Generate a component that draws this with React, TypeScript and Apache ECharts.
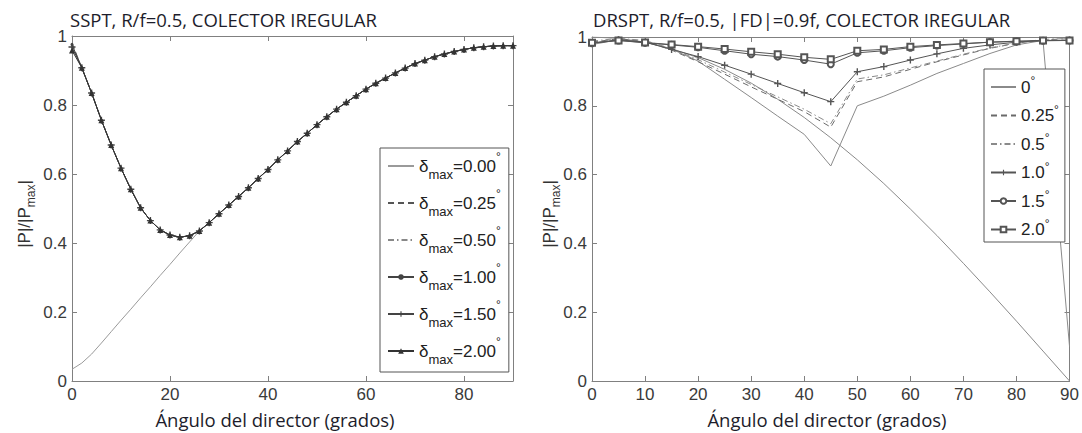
import React, { useEffect, useRef } from "react";
import * as echarts from "echarts";

// ---------- Left panel (SSPT) ----------
const leftAngles = [0, 2, 4, 6, 8, 10, 12, 14, 16, 18, 20, 22, 24, 26, 28, 30, 32, 34, 36, 38, 40, 42, 44, 46, 48, 50, 52, 54, 56, 58, 60, 62, 64, 66, 68, 70, 72, 74, 76, 78, 80, 82, 84, 86, 88, 90];
const leftDelta000 = [0.034, 0.052, 0.078, 0.110, 0.143, 0.176, 0.208, 0.241, 0.273, 0.306, 0.338, 0.371, 0.403, 0.435, 0.459, 0.485, 0.510, 0.535, 0.560, 0.587, 0.613, 0.641, 0.667, 0.694, 0.718, 0.743, 0.766, 0.788, 0.808, 0.827, 0.846, 0.863, 0.878, 0.893, 0.907, 0.920, 0.930, 0.940, 0.948, 0.955, 0.961, 0.966, 0.969, 0.971, 0.972, 0.972];
// shared curve of the delta>0 series for angles 2..90
const leftCurveFromTwo = [0.908, 0.835, 0.756, 0.684, 0.617, 0.556, 0.502, 0.465, 0.438, 0.423, 0.417, 0.421, 0.435, 0.459, 0.485, 0.510, 0.535, 0.560, 0.587, 0.613, 0.641, 0.667, 0.694, 0.718, 0.743, 0.766, 0.788, 0.808, 0.827, 0.846, 0.863, 0.878, 0.893, 0.907, 0.920, 0.930, 0.940, 0.948, 0.955, 0.961, 0.966, 0.969, 0.971, 0.972, 0.972];
// values at angle 0 for delta = 0.25, 0.50, 1.00, 1.50, 2.00
const leftStartValues = [0.98, 0.978, 0.975, 0.968, 0.958];
const leftLegendLabels = ["0.00", "0.25", "0.50", "1.00", "1.50", "2.00"];
const leftXTicks = [0, 20, 40, 60, 80];

// ---------- Right panel (DRSPT) ----------
const rightAngles = [0, 5, 10, 15, 20, 25, 30, 35, 40, 45, 50, 55, 60, 65, 70, 75, 80, 85, 90];
const rightReference = [1.0, 0.996, 0.985, 0.966, 0.94, 0.906, 0.866, 0.819, 0.766, 0.707, 0.643, 0.574, 0.5, 0.423, 0.342, 0.259, 0.174, 0.087, 0.0];
const right0 = [0.978, 0.992, 0.985, 0.965, 0.93, 0.877, 0.824, 0.77, 0.717, 0.625, 0.80, 0.828, 0.86, 0.894, 0.923, 0.952, 0.977, 0.99, 0.10];
const right025 = [0.985, 0.995, 0.988, 0.962, 0.928, 0.892, 0.855, 0.819, 0.783, 0.738, 0.870, 0.884, 0.906, 0.928, 0.948, 0.967, 0.982, 0.992, 0.995];
const right05 = [0.988, 0.996, 0.99, 0.966, 0.934, 0.898, 0.862, 0.826, 0.79, 0.748, 0.878, 0.89, 0.91, 0.93, 0.95, 0.968, 0.983, 0.993, 0.996];
const right10 = [0.982, 0.992, 0.985, 0.964, 0.943, 0.918, 0.892, 0.865, 0.838, 0.812, 0.899, 0.914, 0.933, 0.951, 0.967, 0.977, 0.985, 0.99, 0.99];
const right15 = [0.982, 0.99, 0.983, 0.977, 0.97, 0.96, 0.95, 0.943, 0.933, 0.921, 0.954, 0.96, 0.969, 0.975, 0.98, 0.985, 0.987, 0.989, 0.99];
const right20 = [0.983, 0.99, 0.984, 0.978, 0.972, 0.965, 0.957, 0.95, 0.941, 0.935, 0.96, 0.964, 0.972, 0.977, 0.981, 0.985, 0.988, 0.99, 0.99];
const rightLegendLabels = ["0", "0.25", "0.5", "1.0", "1.5", "2.0"];
const rightXTicks = [0, 10, 20, 30, 40, 50, 60, 70, 80, 90];

const yTicks = [0, 0.2, 0.4, 0.6, 0.8, 1];

const leftTitle = "SSPT, R/f=0.5, COLECTOR IREGULAR";
const rightTitle = "DRSPT, R/f=0.5, |FD|=0.9f, COLECTOR IREGULAR";
const xName = "Ángulo del director (grados)";

const SANS = "'Liberation Sans', Arial, sans-serif";
const TITLE_FONT = "'Open Sans', 'Noto Sans', sans-serif";
const AXIS_GRAY = "#808080";
const PLUS = "path://M4,0H6V4H10V6H6V10H4V6H0V4H4Z";

const pair = (xs: number[], ys: number[]) => xs.map((x, i) => [x, ys[i]]);

function buildOption() {
  const leftNames = leftLegendLabels.map((l) => `δmax=${l}°`);
  const rightNames = rightLegendLabels.map((l) => `${l}°`);

  const yLabelFmt = (v: number) => (yTicks.includes(Number(v.toFixed(1))) ? (v === 0 ? "0" : v === 1 ? "1" : v.toFixed(1)) : "");

  const mkX = (grid: number, ticks: number[], interval: number, top: boolean) => ({
    type: "value",
    gridIndex: grid,
    position: top ? "top" : "bottom",
    min: 0,
    max: 90,
    interval,
    axisLine: { show: true, onZero: false, lineStyle: { color: AXIS_GRAY, width: 1 } },
    axisTick: { show: true, inside: true, length: 5, lineStyle: { color: AXIS_GRAY } },
    axisLabel: {
      show: !top,
      color: "#3a3a3a",
      fontFamily: SANS,
      fontSize: 17,
      margin: 5,
      showMaxLabel: true,
      formatter: (v: number) => (ticks.includes(v) ? String(v) : ""),
    },
    splitLine: { show: false },
  });
  const mkY = (grid: number, right: boolean) => ({
    type: "value",
    gridIndex: grid,
    position: right ? "right" : "left",
    min: 0,
    max: 1,
    interval: 0.2,
    axisLine: { show: true, onZero: false, lineStyle: { color: AXIS_GRAY, width: 1 } },
    axisTick: { show: true, inside: true, length: 5, lineStyle: { color: AXIS_GRAY } },
    axisLabel: { show: !right, color: "#3a3a3a", fontFamily: SANS, fontSize: 17, margin: 5, formatter: yLabelFmt },
    splitLine: { show: false },
  });

  const leftStyles = [
    { color: "#9a9a9a", type: "solid", symbol: "none", size: 0 },
    { color: "#555", type: [6, 4], symbol: "none", size: 0 },
    { color: "#888", type: [6, 3, 1.5, 3], symbol: "none", size: 0 },
    { color: "#444", type: "solid", symbol: "circle", size: 3 },
    { color: "#444", type: "solid", symbol: PLUS, size: 7 },
    { color: "#333", type: "solid", symbol: "triangle", size: 6 },
  ];
  const leftData = [leftDelta000, ...leftStartValues.map((s) => [s, ...leftCurveFromTwo])];

  const leftSeries = leftNames.map((name, i) => ({
    name,
    type: "line",
    xAxisIndex: 0,
    yAxisIndex: 0,
    data: pair(leftAngles, leftData[i]),
    showSymbol: leftStyles[i].symbol !== "none",
    symbol: leftStyles[i].symbol,
    symbolSize: leftStyles[i].size,
    lineStyle: { color: leftStyles[i].color, width: 1, type: leftStyles[i].type },
    itemStyle: { color: leftStyles[i].color },
    z: 2 + i,
  }));

  const rightStyles = [
    { color: "#8a8a8a", type: "solid", symbol: "none", size: 0 },
    { color: "#6a6a6a", type: [6, 4], symbol: "none", size: 0 },
    { color: "#8a8a8a", type: [6, 3, 1.5, 3], symbol: "none", size: 0 },
    { color: "#555", type: "solid", symbol: PLUS, size: 7 },
    { color: "#555", type: "solid", symbol: "emptyCircle", size: 6 },
    { color: "#555", type: "solid", symbol: "emptyRect", size: 6 },
  ];
  const rightData = [right0, right025, right05, right10, right15, right20];
  const rightSeries = rightNames.map((name, i) => ({
    name,
    type: "line",
    xAxisIndex: 2,
    yAxisIndex: 2,
    data: pair(rightAngles, rightData[i]),
    showSymbol: rightStyles[i].symbol !== "none",
    symbol: rightStyles[i].symbol,
    symbolSize: rightStyles[i].size,
    lineStyle: { color: rightStyles[i].color, width: 1, type: rightStyles[i].type },
    itemStyle: { color: rightStyles[i].color, borderWidth: 1 },
    z: 3 + i,
  }));
  const refSeries = {
    name: "referencia",
    type: "line",
    xAxisIndex: 2,
    yAxisIndex: 2,
    data: pair(rightAngles, rightReference),
    showSymbol: false,
    symbol: "none",
    lineStyle: { color: "#8a8a8a", width: 1 },
    z: 2,
  };

  const base = { fontFamily: SANS, color: "#222" };
  const legendItems = (names: string[], styles: { symbol: string }[]) =>
    names.map((name, i) => (styles[i].symbol === "none" ? { name, itemStyle: { opacity: 0 } } : { name }));

  return {
    animation: false,
    backgroundColor: "#ffffff",
    grid: [
      { left: 72, top: 36, width: 441, height: 345, show: false },
      { left: 592, top: 37, width: 479, height: 344, show: false },
    ],
    xAxis: [mkX(0, leftXTicks, 20, false), mkX(0, leftXTicks, 20, true), mkX(1, rightXTicks, 10, false), mkX(1, rightXTicks, 10, true)],
    yAxis: [mkY(0, false), mkY(0, true), mkY(1, false), mkY(1, true)],
    legend: [
      {
        orient: "vertical",
        left: 380,
        top: 148,
        data: legendItems(leftNames, leftStyles),
        itemWidth: 26,
        itemHeight: 7,
        itemGap: 7,
        padding: [3, 8, 6, 7],
        borderColor: "#555",
        borderWidth: 1,
        backgroundColor: "#fff",
        selectedMode: false,
        formatter: (name: string) => {
          const lab = leftLegendLabels[leftNames.indexOf(name)];
          return `{d|δ}{s|max}{v|=${lab}}{u|°}`;
        },
        textStyle: {
          ...base,
          fontSize: 17,
          rich: {
            d: { ...base, fontSize: 17, lineHeight: 30 },
            s: { ...base, fontSize: 13, lineHeight: 13, verticalAlign: "bottom" },
            v: { ...base, fontSize: 17, lineHeight: 30 },
            u: { ...base, fontSize: 12, lineHeight: 13, verticalAlign: "top" },
          },
        },
      },
      {
        orient: "vertical",
        left: 984,
        top: 69,
        data: legendItems(rightNames, rightStyles),
        itemWidth: 25,
        itemHeight: 7,
        itemGap: 8,
        padding: [6, 6, 4, 6],
        borderColor: "#555",
        borderWidth: 1,
        backgroundColor: "#fff",
        selectedMode: false,
        formatter: (name: string) => {
          const lab = rightLegendLabels[rightNames.indexOf(name)];
          return `{v|${lab}}{u|°}`;
        },
        textStyle: {
          ...base,
          fontSize: 17,
          rich: {
            v: { ...base, fontSize: 17, lineHeight: 24 },
            u: { ...base, fontSize: 12, lineHeight: 12, verticalAlign: "top" },
          },
        },
      },
    ],
    graphic: [
      { type: "text", x: 70, y: 19, style: { text: leftTitle, fontFamily: TITLE_FONT, fontSize: 18.5, fill: "#1d1d2b", align: "left", verticalAlign: "middle" } },
      { type: "text", x: 593, y: 19, style: { text: rightTitle, fontFamily: TITLE_FONT, fontSize: 18.5, fill: "#1d1d2b", align: "left", verticalAlign: "middle" } },
      { type: "text", x: 275, y: 419, style: { text: xName, fontFamily: TITLE_FONT, fontSize: 18.5, fill: "#1d1d2b", align: "center", verticalAlign: "middle" } },
      { type: "text", x: 827, y: 419, style: { text: xName, fontFamily: TITLE_FONT, fontSize: 18.5, fill: "#1d1d2b", align: "center", verticalAlign: "middle" } },
      ...[24, 549].map((cx) => ({
        type: "text",
        x: cx,
        y: 214,
        rotation: Math.PI / 2,
        style: {
          text: "{a||P|/|P}{s|max}{a||}",
          align: "center",
          verticalAlign: "middle",
          rich: {
            a: { fontFamily: SANS, fontSize: 17, fill: "#333", lineHeight: 26 },
            s: { fontFamily: SANS, fontSize: 12, fill: "#333", lineHeight: 12, verticalAlign: "bottom" },
          },
        },
      })),
    ],
    series: [...leftSeries, refSeries, ...rightSeries],
  };
}

export default function App() {
  const ref = useRef<HTMLDivElement>(null);
  useEffect(() => {
    document.body.style.margin = "0";
    if (!ref.current) return;
    const chart = echarts.init(ref.current, null, { renderer: "svg" });
    chart.setOption(buildOption() as any);
    return () => chart.dispose();
  }, []);
  return <div ref={ref} style={{ width: 1082, height: 433, background: "#fff" }} />;
}
